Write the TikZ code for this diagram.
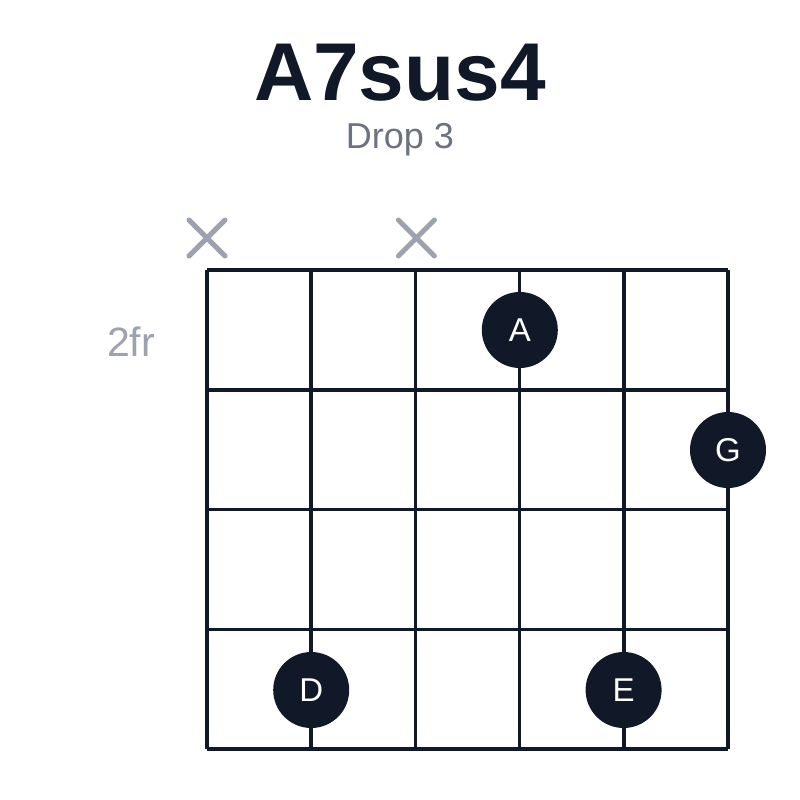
\documentclass[tikz,border=0pt]{standalone}
\usepackage{fontspec}
\setmainfont{Liberation Sans}
\usepackage{tikz}
\usetikzlibrary{calc}
\definecolor{ink}{RGB}{17,24,39}
\definecolor{muted}{RGB}{156,163,175}
\definecolor{subtle}{RGB}{107,114,128}
\newcommand{\fingerdot}[4]{\node[fingerdot] (#1) at (#2,#3) {#4};}
\newcommand{\mutestring}[2]{
    \coordinate (#1) at (#2,238);
    \draw[mutemark] ($(#1)+(-18,-18)$)--($(#1)+(18,18)$);
    \draw[mutemark] ($(#1)+(-18,18)$)--($(#1)+(18,-18)$);
}
\tikzset{
  fingerdot/.style={circle,fill=ink,text=white,minimum size=76pt,inner sep=0pt,font=\fontsize{33}{33}\selectfont},
  mutemark/.style={muted,line width=5pt,line cap=round},
  gridline/.style={ink,line width=3.5pt}
}

\begin{document}
\begin{tikzpicture}[x=1pt,y=-1pt]
\useasboundingbox (0,0) rectangle (800,800);
\fill[white] (0,0) rectangle (800,800);
\node[anchor=base,text=ink,font=\fontsize{82}{82}\selectfont\bfseries] (title) at (400,100) {A7sus4};
\node[anchor=base,text=subtle,font=\fontsize{36}{36}\selectfont] (voicing) at (400,148) {Drop 3};
\node[anchor=base,text=muted,font=\fontsize{41}{41}\selectfont] (fret) at (131,356) {2fr};
    \foreach \s in {0,...,5}{
    \draw[gridline] (207+\s*104.2,270)--(207+\s*104.2,749);
    }
    \foreach \f in {0,...,4}{
      \draw[gridline] (207,270+\f*119.75)--(728,270+\f*119.75);
    }
\mutestring{mute1}{207}\mutestring{mute3}{416.4}
\fingerdot{dotA}{519.8}{330}{A}\fingerdot{dotG}{728}{450}{G}\fingerdot{dotD}{311.2}{690}{D}\fingerdot{dotE}{623.6}{690}{E}
\end{tikzpicture}
\end{document}
